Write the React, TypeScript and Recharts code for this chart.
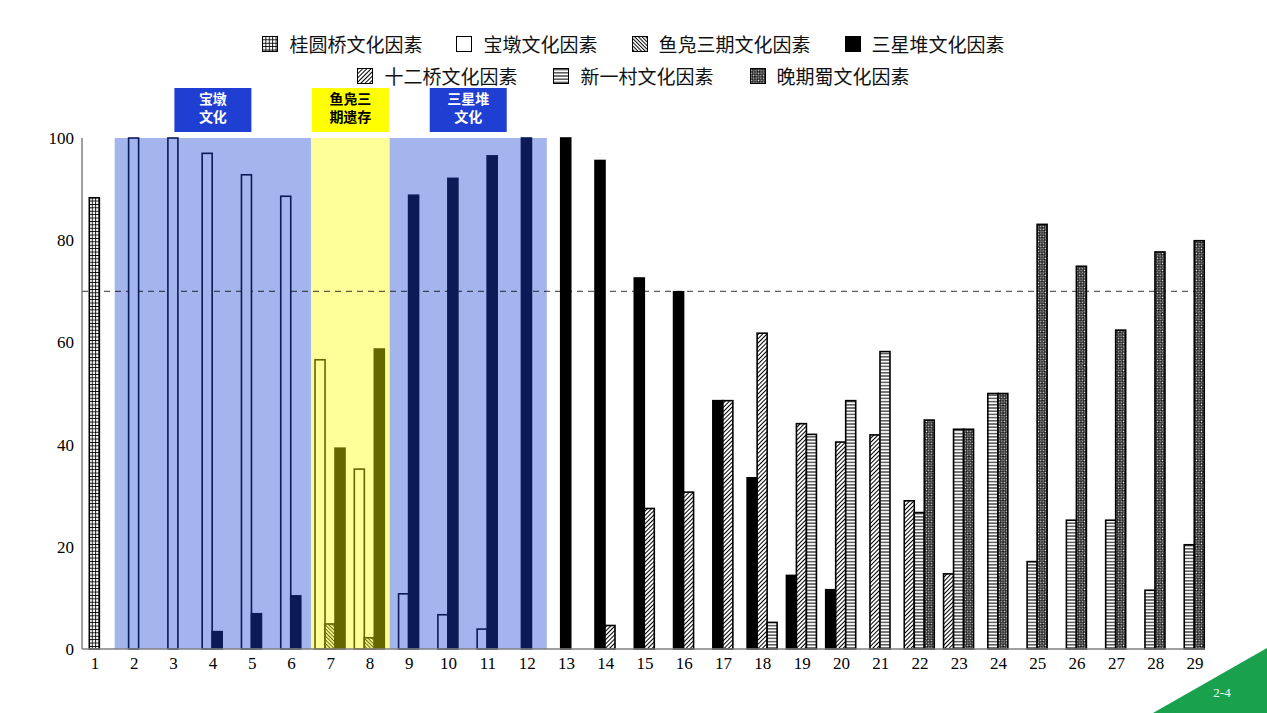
import React from 'react';
import { BarChart, Bar, XAxis, YAxis, ReferenceArea, ReferenceLine } from 'recharts';

const _ = null;

const categories = ['1','2','3','4','5','6','7','8','9','10','11','12','13','14','15','16','17','18','19','20','21','22','23','24','25','26','27','28','29'];

const guiyuanqiao = [88.3,_,_,_,_,_,_,_,_,_,_,_,_,_,_,_,_,_,_,_,_,_,_,_,_,_,_,_,_];
const baodun = [_,100,100,97,92.8,88.6,56.6,35.2,10.8,6.7,3.9,_,_,_,_,_,_,_,_,_,_,_,_,_,_,_,_,_,_];
const yufu = [_,_,_,_,_,_,4.9,2.2,_,_,_,_,_,_,_,_,_,_,_,_,_,_,_,_,_,_,_,_,_];
const sanxingdui = [_,_,_,3.4,6.9,10.4,39.3,58.7,88.8,92.1,96.5,100,100,95.6,72.6,69.9,48.6,33.5,14.4,11.6,_,_,_,_,_,_,_,_,_];
const shierqiao = [_,_,_,_,_,_,_,_,_,_,_,_,_,4.6,27.5,30.7,48.6,61.8,44.1,40.5,41.9,29.0,14.7,_,_,_,_,_,_];
const xinyicun = [_,_,_,_,_,_,_,_,_,_,_,_,_,_,_,_,_,5.2,42.0,48.6,58.2,26.7,43.0,50.0,17.1,25.2,25.2,11.5,20.4];
const wanqishu = [_,_,_,_,_,_,_,_,_,_,_,_,_,_,_,_,_,_,_,_,_,44.8,43.0,50.0,83.1,74.9,62.4,77.7,79.9];

const yTicks = [0, 20, 40, 60, 80, 100];
const threshold = 70;

const SERIES = [
  { key: 'guiyuanqiao', name: '桂圆桥文化因素', values: guiyuanqiao, fill: 'url(#pat-grid)' },
  { key: 'baodun', name: '宝墩文化因素', values: baodun, fill: '#ffffff' },
  { key: 'yufu', name: '鱼凫三期文化因素', values: yufu, fill: 'url(#pat-back)' },
  { key: 'sanxingdui', name: '三星堆文化因素', values: sanxingdui, fill: '#000000' },
  { key: 'shierqiao', name: '十二桥文化因素', values: shierqiao, fill: 'url(#pat-fwd)' },
  { key: 'xinyicun', name: '新一村文化因素', values: xinyicun, fill: 'url(#pat-horiz)' },
  { key: 'wanqishu', name: '晚期蜀文化因素', values: wanqishu, fill: 'url(#pat-check)' },
];

const BLUE_BG = '#A4B4EC';
const YELLOW_BG = '#FFFF99';
const NAVY = '#0C1B56';
const OLIVE = '#666600';

const REGIONS = [
  { from: '2', to: '6', kind: 'blue', tag: ['宝墩', '文化'] },
  { from: '7', to: '8', kind: 'yellow', tag: ['鱼凫三', '期遗存'] },
  { from: '9', to: '12', kind: 'blue', tag: ['三星堆', '文化'] },
];

const rows = categories.map((name, i) => {
  const present = SERIES.filter((s) => s.values[i] != null);
  const row: any = { name, n: present.length };
  present.forEach((s, j) => {
    row[`s${j}`] = s.values[i];
    row[`k${j}`] = s.key;
  });
  return row;
});

const regionOf = (name: string) => {
  const idx = categories.indexOf(name);
  const r = REGIONS.find((g) => idx >= categories.indexOf(g.from) && idx <= categories.indexOf(g.to));
  return r ? r.kind : 'none';
};

const styleFor = (key: string, region: string) => {
  const base = SERIES.find((s) => s.key === key)!;
  if (region === 'blue') {
    if (key === 'baodun') return { fill: BLUE_BG, stroke: NAVY };
    if (key === 'sanxingdui') return { fill: NAVY, stroke: NAVY };
    return { fill: base.fill, stroke: NAVY };
  }
  if (region === 'yellow') {
    if (key === 'baodun') return { fill: YELLOW_BG, stroke: OLIVE };
    if (key === 'sanxingdui') return { fill: OLIVE, stroke: OLIVE };
    if (key === 'yufu') return { fill: 'url(#pat-back-olive)', stroke: OLIVE };
    return { fill: base.fill, stroke: OLIVE };
  }
  return { fill: base.fill, stroke: '#000000' };
};

const makeShape = (slot: number) => (props: any) => {
  const { x, y, width, height, payload } = props;
  const key = payload && payload[`k${slot}`];
  if (!key || payload[`s${slot}`] == null || !(height > 0)) return <g />;
  const dx = ((3 - payload.n) * width) / 2;
  const st = styleFor(key, regionOf(payload.name));
  return (
    <rect x={x + dx} y={y} width={width} height={height} fill={st.fill} stroke={st.stroke} strokeWidth={1.6} />
  );
};

const makeTag = (lines: string[], kind: string) => (props: any) => {
  const vb = props.viewBox || {};
  const cx = vb.x + vb.width / 2;
  const w = 77;
  const h = 44;
  const top = vb.y - 50;
  const bg = kind === 'blue' ? '#1F3FD2' : '#FFFF00';
  const fg = kind === 'blue' ? '#FFFFFF' : '#000000';
  return (
    <g>
      <rect x={cx - w / 2} y={top} width={w} height={h} fill={bg} />
      {lines.map((t, i) => (
        <text
          key={i}
          x={cx}
          y={top + 16 + i * 18}
          textAnchor="middle"
          fill={fg}
          fontSize={14}
          fontWeight="bold"
          fontFamily="'Noto Sans CJK SC', sans-serif"
        >
          {t}
        </text>
      ))}
    </g>
  );
};

const Patterns = () => (
  <svg width={0} height={0} style={{ position: 'absolute', left: 0, top: 0 }}>
    <defs>
      <pattern id="pat-grid" width="3.4" height="3.4" patternUnits="userSpaceOnUse">
        <rect width="3.4" height="3.4" fill="#fff" />
        <path d="M0 0.5 H3.4 M0.5 0 V3.4" stroke="#000" strokeWidth="0.9" />
      </pattern>
      <pattern id="pat-fwd" width="3" height="3" patternUnits="userSpaceOnUse" patternTransform="rotate(45)">
        <rect width="3" height="3" fill="#fff" />
        <line x1="1.5" y1="0" x2="1.5" y2="3" stroke="#000" strokeWidth="1" />
      </pattern>
      <pattern id="pat-back" width="2.6" height="2.6" patternUnits="userSpaceOnUse" patternTransform="rotate(-45)">
        <rect width="2.6" height="2.6" fill="#fff" />
        <line x1="1.3" y1="0" x2="1.3" y2="2.6" stroke="#000" strokeWidth="1" />
      </pattern>
      <pattern id="pat-back-olive" width="2.6" height="2.6" patternUnits="userSpaceOnUse" patternTransform="rotate(-45)">
        <rect width="2.6" height="2.6" fill={YELLOW_BG} />
        <line x1="1.3" y1="0" x2="1.3" y2="2.6" stroke={OLIVE} strokeWidth="1" />
      </pattern>
      <pattern id="pat-horiz" width="4" height="3.2" patternUnits="userSpaceOnUse">
        <rect width="4" height="3.2" fill="#fff" />
        <line x1="0" y1="1.6" x2="4" y2="1.6" stroke="#000" strokeWidth="1" />
      </pattern>
      <pattern id="pat-check" width="2.4" height="2.4" patternUnits="userSpaceOnUse" patternTransform="rotate(45)">
        <rect width="2.4" height="2.4" fill="#111" />
        <rect width="0.9" height="0.9" fill="#fff" />
        <rect x="1.2" y="1.2" width="0.9" height="0.9" fill="#fff" />
      </pattern>
    </defs>
  </svg>
);

const LegendItem = ({ s }: { s: (typeof SERIES)[number] }) => (
  <div style={{ display: 'flex', alignItems: 'center' }}>
    <svg width={16} height={16}>
      <rect x={0.5} y={0.5} width={15} height={15} fill={s.fill} stroke="#000" strokeWidth={1} />
    </svg>
    <span style={{ marginLeft: 11, fontSize: 19, lineHeight: '19px', color: '#111', fontFamily: "'Noto Sans CJK SC', sans-serif" }}>
      {s.name}
    </span>
  </div>
);

const LegendBlock = () => (
  <div
    style={{
      position: 'absolute',
      left: 0,
      top: 34,
      width: 1267,
      display: 'flex',
      flexDirection: 'column',
      alignItems: 'center',
      rowGap: 13,
    }}
  >
    <div style={{ display: 'flex', columnGap: 34 }}>
      {SERIES.slice(0, 4).map((s) => (
        <LegendItem key={s.key} s={s} />
      ))}
    </div>
    <div style={{ display: 'flex', columnGap: 36 }}>
      {SERIES.slice(4).map((s) => (
        <LegendItem key={s.key} s={s} />
      ))}
    </div>
  </div>
);

const tickStyle = { fontSize: 17, fill: '#000', fontFamily: "'Liberation Serif', 'Times New Roman', serif" };

export default function App() {
  return (
    <div style={{ position: 'absolute', left: 0, top: 0, width: 1267, height: 713, background: '#fff', overflow: 'hidden' }}>
      <Patterns />
      <BarChart
        width={1267}
        height={713}
        data={rows}
        margin={{ top: 138, right: 62, bottom: 34, left: 22 }}
        barCategoryGap="10%"
        barGap={0}
      >
        {REGIONS.map((r) => (
          <ReferenceArea
            key={r.from}
            x1={r.from}
            x2={r.to}
            fill={r.kind === 'blue' ? BLUE_BG : YELLOW_BG}
            fillOpacity={1}
            stroke="none"
            ifOverflow="visible"
            label={makeTag(r.tag, r.kind)}
          />
        ))}
        <ReferenceLine y={threshold} stroke="#000" strokeWidth={0.8} strokeDasharray="6 5" zIndex={250} />
        <XAxis
          dataKey="name"
          interval={0}
          tickLine={false}
          axisLine={{ stroke: '#808080', strokeWidth: 1.5 }}
          tick={tickStyle}
          height={30}
          padding={{ left: -6.6, right: -9.6 }}
        />
        <YAxis
          domain={[0, 100]}
          ticks={yTicks}
          tickLine={false}
          axisLine={{ stroke: '#808080', strokeWidth: 1.5 }}
          tick={tickStyle}
          width={60}
        />
        {[0, 1, 2].map((slot) => (
          <Bar key={slot} dataKey={`s${slot}`} isAnimationActive={false} shape={makeShape(slot)} />
        ))}
      </BarChart>
      <LegendBlock />
      <svg width={1267} height={713} style={{ position: 'absolute', left: 0, top: 0, pointerEvents: 'none' }}>
        <polygon points="1153,713 1267,648 1267,713" fill="#19A14D" />
        <text x={1222} y={697} textAnchor="middle" fill="#fff" fontSize={13} fontFamily="'Liberation Serif', serif">
          2-4
        </text>
      </svg>
    </div>
  );
}
